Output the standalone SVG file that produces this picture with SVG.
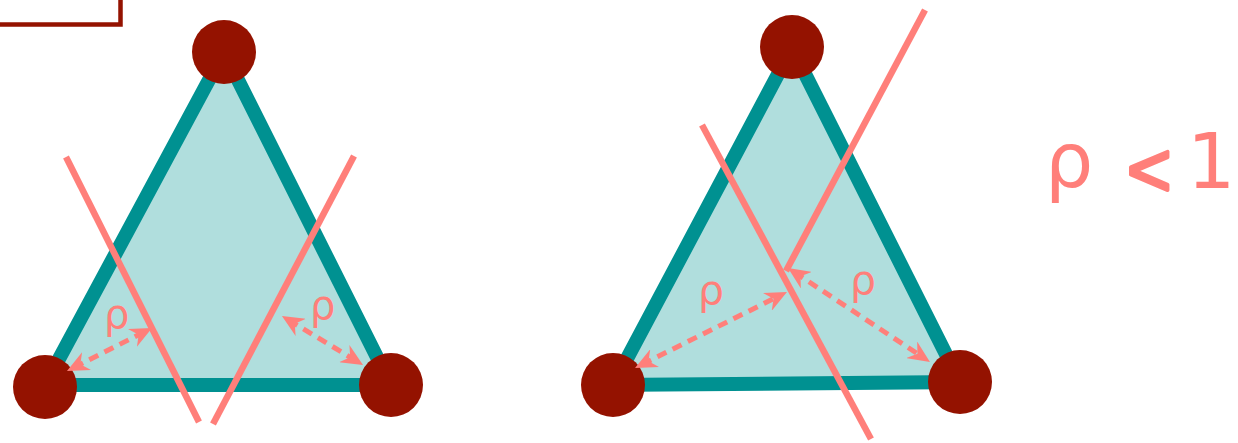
<svg xmlns="http://www.w3.org/2000/svg" width="1238" height="443" viewBox="0 0 1238 443">
<style>
.tri{fill:#b0dedd;stroke:#009191;stroke-width:14;stroke-linejoin:miter}
.vtx{fill:#941200}
.cut{stroke:#ff7f7a;stroke-width:6.5;fill:none}
.dist{stroke:#ff7f7a;stroke-width:5;stroke-dasharray:10 7;fill:none;marker-start:url(#ah);marker-end:url(#ah)}
.lbl{fill:#ff7f7a;font-family:"DejaVu Sans",sans-serif}
</style>
<defs>
<marker id="ah" markerUnits="userSpaceOnUse" viewBox="0 0 22 20" markerWidth="22" markerHeight="20" refX="14" refY="10" orient="auto-start-reverse">
<path d="M0,0 L22,10 L0,20 L7,10 Z" fill="#ff7f7a"/>
</marker>
</defs>
<rect x="-20" y="-20" width="140.5" height="44.5" fill="none" stroke="#941200" stroke-width="4.5"/>
<g id="tri-left"><polygon class="tri" points="224,52 45,385 391,385"/></g>
<g id="tri-right"><polygon class="tri" points="792,48 613,385 960,382"/></g>
<g id="cuts">
<line class="cut" x1="66" y1="157" x2="199" y2="422"/>
<line class="cut" x1="354" y1="156" x2="213" y2="424"/>
<line class="cut" x1="702" y1="125" x2="871" y2="439"/>
<line class="cut" x1="925" y1="10" x2="786" y2="271"/>
</g>
<g id="v-left-top"><circle class="vtx" cx="224" cy="52" r="32"/></g>
<g id="v-left-bl"><circle class="vtx" cx="45" cy="387" r="32"/></g>
<g id="v-left-br"><circle class="vtx" cx="391" cy="385" r="32"/></g>
<g id="v-right-top"><circle class="vtx" cx="792" cy="47" r="32"/></g>
<g id="v-right-bl"><circle class="vtx" cx="613" cy="385" r="32"/></g>
<g id="v-right-br"><circle class="vtx" cx="960" cy="382" r="32"/></g>
<g id="connectors">
<line class="dist" x1="74.1" y1="367.4" x2="144.9" y2="331.6"/>
<line class="dist" x1="288.8" y1="320.1" x2="356.2" y2="360.9"/>
<line class="dist" x1="642.2" y1="364.4" x2="779.8" y2="295.6"/>
<line class="dist" x1="794.7" y1="272.4" x2="923.3" y2="357.6"/>
</g>
<g id="labels">
<text class="lbl" x="104" y="328" font-size="40">ρ</text>
<text class="lbl" x="310" y="319" font-size="40">ρ</text>
<text class="lbl" x="698" y="304" font-size="41">ρ</text>
<text class="lbl" x="850" y="294" font-size="41">ρ</text>
<text class="lbl" y="187" font-size="76"><tspan x="1045">ρ</tspan><tspan x="1127" y="196" font-size="76" font-family="Liberation Sans, sans-serif" stroke="#ff7f7a" stroke-width="3.5" stroke-linejoin="round">&lt;</tspan><tspan x="1187" y="188">1</tspan></text>
</g>
</svg>
